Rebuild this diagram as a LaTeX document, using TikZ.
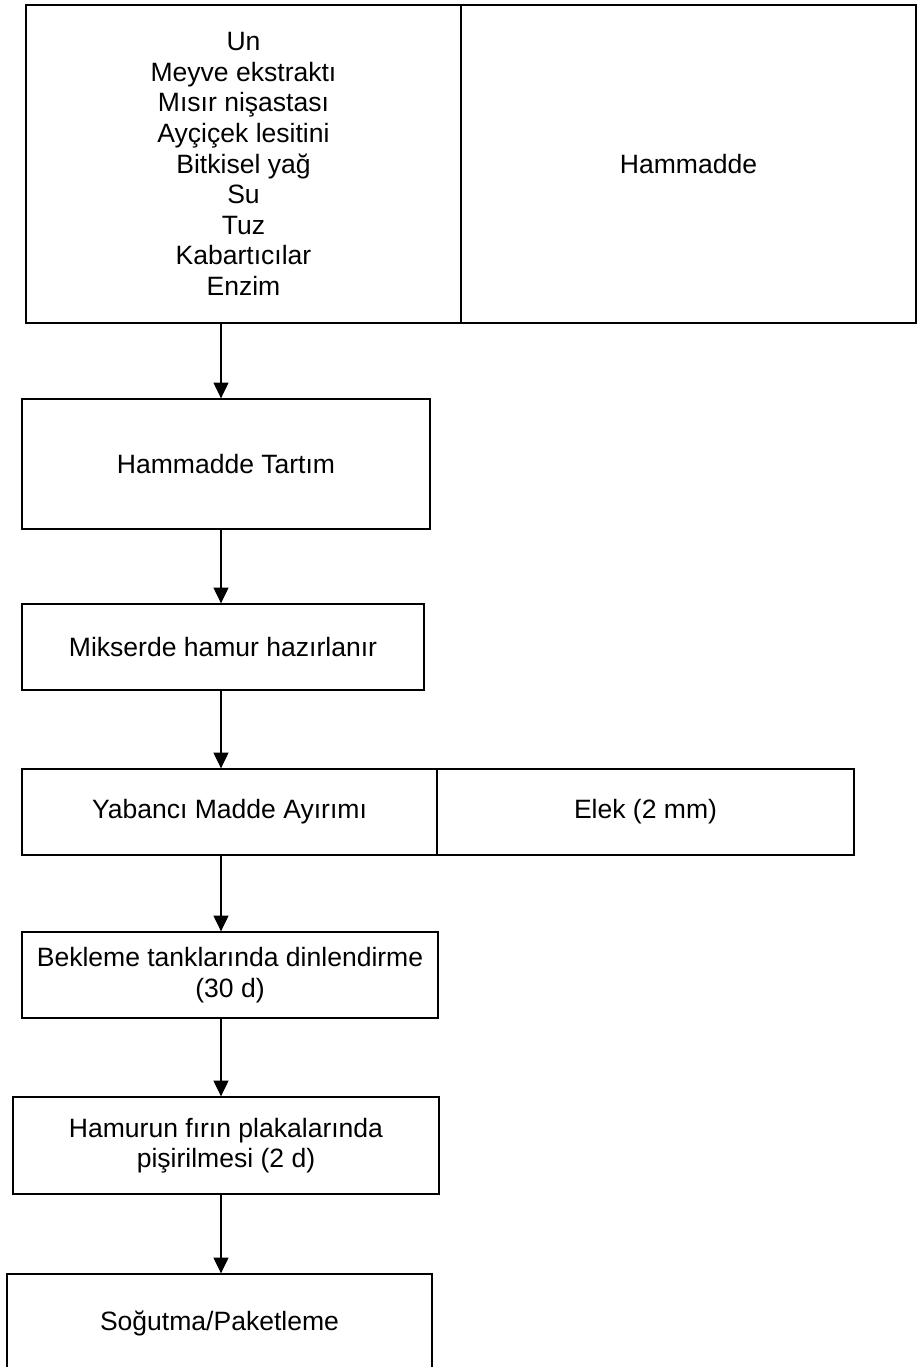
\documentclass[tikz,border=0pt]{standalone}
\usepackage{fontspec}
\setmainfont{Liberation Sans}
\usepackage{tikz}
\usetikzlibrary{positioning, arrows.meta}

\begin{document}
\begin{tikzpicture}[x=0.02cm, y=-0.02cm,
    box/.style={draw, line width=0.8pt, rectangle, align=center, inner sep=2pt,
        font=\fontsize{15.1}{17.4}\selectfont},
    arr/.style={line width=0.7pt, -{Triangle[length=9pt, width=8.6pt]}}]
    % Page size
    \useasboundingbox (0,0) rectangle (917,1367);
    \clip (0,0) rectangle (917,1367);

    % Raw materials row
    \node[box, minimum width=8.7cm, minimum height=6.36cm] (raw) at (243.5,164)
        {Un\\Meyve ekstraktı\\Mısır nişastası\\Ayçiçek lesitini\\Bitkisel yağ\\Su\\Tuz\\Kabartıcılar\\Enzim};
    \node[box, minimum width=9.1cm, minimum height=6.36cm] (ham) at (688.5,164) {Hammadde};

    % Process steps
    \node[box, minimum width=8.16cm, minimum height=2.6cm] (tartim) at (226,464) {Hammadde Tartım};
    \node[box, minimum width=8.04cm, minimum height=1.72cm] (mikser) at (223,647) {Mikserde hamur hazırlanır};
    \node[box, minimum width=8.3cm, minimum height=1.72cm] (yabanci) at (229.5,812) {Yabancı Madde Ayırımı};
    \node[box, minimum width=8.34cm, minimum height=1.72cm] (elek) at (645.5,812) {Elek (2 mm)};
    \node[box, minimum width=8.32cm, minimum height=1.72cm] (bekleme) at (230,975)
        {Bekleme tanklarında dinlendirme\\(30 d)};
    \node[box, minimum width=8.52cm, minimum height=1.94cm] (pisirme) at (226,1145.5)
        {Hamurun fırın plakalarında\\pişirilmesi (2 d)};
    \node[box, minimum width=8.5cm, minimum height=1.96cm] (sogutma) at (219.5,1323) {Soğutma/Paketleme};

    % Flow line
    \coordinate (axis) at (221,0);

    % Arrows
    \draw[arr] (raw.south -| axis) -- (tartim.north -| axis);
    \draw[arr] (tartim.south -| axis) -- (mikser.north -| axis);
    \draw[arr] (mikser.south -| axis) -- (yabanci.north -| axis);
    \draw[arr] (yabanci.south -| axis) -- (bekleme.north -| axis);
    \draw[arr] (bekleme.south -| axis) -- (pisirme.north -| axis);
    \draw[arr] (pisirme.south -| axis) -- (sogutma.north -| axis);
\end{tikzpicture}
\end{document}
